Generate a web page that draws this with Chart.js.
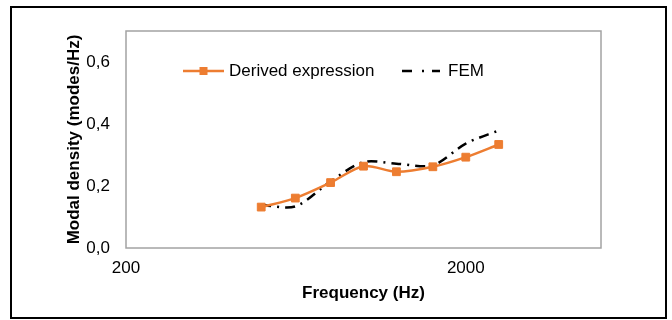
<!DOCTYPE html>
<html>
<head>
<meta charset="utf-8">
<script src="https://cdn.jsdelivr.net/npm/chart.js@4.4.0/dist/chart.umd.min.js"></script>
<style>
html, body { margin: 0; padding: 0; background: #fff; }
#wrap { position: relative; width: 672px; height: 320px; }
#frame { position: absolute; left: 10px; top: 6px; width: 657px; height: 313px; box-sizing: border-box; border: 2px solid #000; pointer-events: none; }
</style>
</head>
<body>
<div id="wrap">
    <canvas id="chart" width="672" height="320"></canvas>
    <div id="frame"></div>
</div>
<script>
// data
var frequencies = [500, 630, 800, 1000, 1250, 1600, 2000, 2500];
var derivedValues = [0.132, 0.161, 0.211, 0.264, 0.246, 0.262, 0.293, 0.334];
var femValues = [0.139, 0.134, 0.215, 0.277, 0.272, 0.267, 0.337, 0.379];
var xTickValues = [200, 2000];
var yTickValues = [0, 0.2, 0.4, 0.6];

var FONT = '"Liberation Sans", Arial, sans-serif';
var ORANGE = '#ED7D31';

function toPoints(values) {
    return frequencies.map(function(f, i) { return {x: f, y: values[i]}; });
}

// grey box round the plot area
var plotBox = {
    id: 'plotBox',
    beforeDatasetsDraw: function(chart) {
        var a = chart.chartArea, ctx = chart.ctx;
        ctx.save();
        ctx.strokeStyle = '#a3a3a3';
        ctx.lineWidth = 1.5;
        ctx.strokeRect(a.left, a.top, a.right - a.left, a.bottom - a.top);
        ctx.restore();
    }
};

// legend sits inside the plot area, like the original
var innerLegend = {
    id: 'innerLegend',
    afterDraw: function(chart) {
        var ctx = chart.ctx, a = chart.chartArea;
        var d0 = chart.data.datasets[0], d1 = chart.data.datasets[1];
        var y = a.top + 40;
        ctx.save();
        ctx.font = '17px ' + FONT;
        ctx.textBaseline = 'middle';

        var x = a.left + 57;
        ctx.strokeStyle = d0.borderColor;
        ctx.lineWidth = d0.borderWidth;
        ctx.beginPath(); ctx.moveTo(x, y); ctx.lineTo(x + 41, y); ctx.stroke();
        ctx.fillStyle = d0.pointBackgroundColor;
        ctx.fillRect(x + 16.5, y - 4, 8, 8);
        ctx.fillStyle = '#000';
        ctx.fillText(d0.label, x + 46, y);

        x = a.left + 276;
        ctx.strokeStyle = d1.borderColor;
        ctx.lineWidth = d1.borderWidth;
        ctx.setLineDash([10, 10, 2, 8]);
        ctx.beginPath(); ctx.moveTo(x, y); ctx.lineTo(x + 38, y); ctx.stroke();
        ctx.setLineDash([]);
        ctx.fillStyle = '#000';
        ctx.fillText(d1.label, x + 46, y);
        ctx.restore();
    }
};

new Chart(document.getElementById('chart'), {
    type: 'line',
    data: {
        datasets: [{
            label: 'Derived expression',
            data: toPoints(derivedValues),
            borderColor: ORANGE,
            backgroundColor: ORANGE,
            pointBackgroundColor: ORANGE,
            pointBorderColor: ORANGE,
            borderWidth: 2.5,
            pointStyle: 'rect',
            pointRadius: 5.5,
            pointBorderWidth: 1,
            tension: 0.3,
            fill: false
        }, {
            label: 'FEM',
            data: toPoints(femValues),
            borderColor: '#000',
            borderWidth: 2.5,
            borderDash: [10, 6, 2, 6],
            pointRadius: 0,
            tension: 0.3,
            fill: false
        }]
    },
    options: {
        responsive: false,
        animation: false,
        devicePixelRatio: 1,
        layout: { padding: { left: 50, top: 31, right: 71, bottom: 10 } },
        plugins: {
            legend: { display: false },
            tooltip: { enabled: false }
        },
        scales: {
            x: {
                type: 'logarithmic',
                min: 200,
                max: 5000,
                afterBuildTicks: function(scale) {
                    scale.ticks = xTickValues.map(function(v) { return {value: v}; });
                },
                afterFit: function(scale) { scale.height = 62; },
                grid: { display: false, drawTicks: false },
                border: { display: false },
                ticks: {
                    autoSkip: false,
                    maxRotation: 0,
                    padding: 10,
                    color: '#000',
                    font: { family: FONT, size: 17 },
                    callback: function(v) { return String(v); }
                },
                title: {
                    display: true,
                    text: 'Frequency (Hz)',
                    color: '#000',
                    font: { family: FONT, size: 17, weight: 'bold' },
                    padding: { top: 0, bottom: 6 }
                }
            },
            y: {
                min: 0,
                max: 0.7,
                afterBuildTicks: function(scale) {
                    scale.ticks = yTickValues.map(function(v) { return {value: v}; });
                },
                afterFit: function(scale) { scale.width = 76; },
                grid: { display: false, drawTicks: false },
                border: { display: false },
                ticks: {
                    padding: 16,
                    color: '#000',
                    font: { family: FONT, size: 17 },
                    callback: function(v) { return v.toFixed(1).replace('.', ','); }
                },
                title: {
                    display: true,
                    text: 'Modal density (modes/Hz)',
                    color: '#000',
                    font: { family: FONT, size: 17, weight: 'bold' },
                    padding: { top: 14, bottom: 0 }
                }
            }
        }
    },
    plugins: [plotBox, innerLegend]
});
</script>
</body>
</html>
